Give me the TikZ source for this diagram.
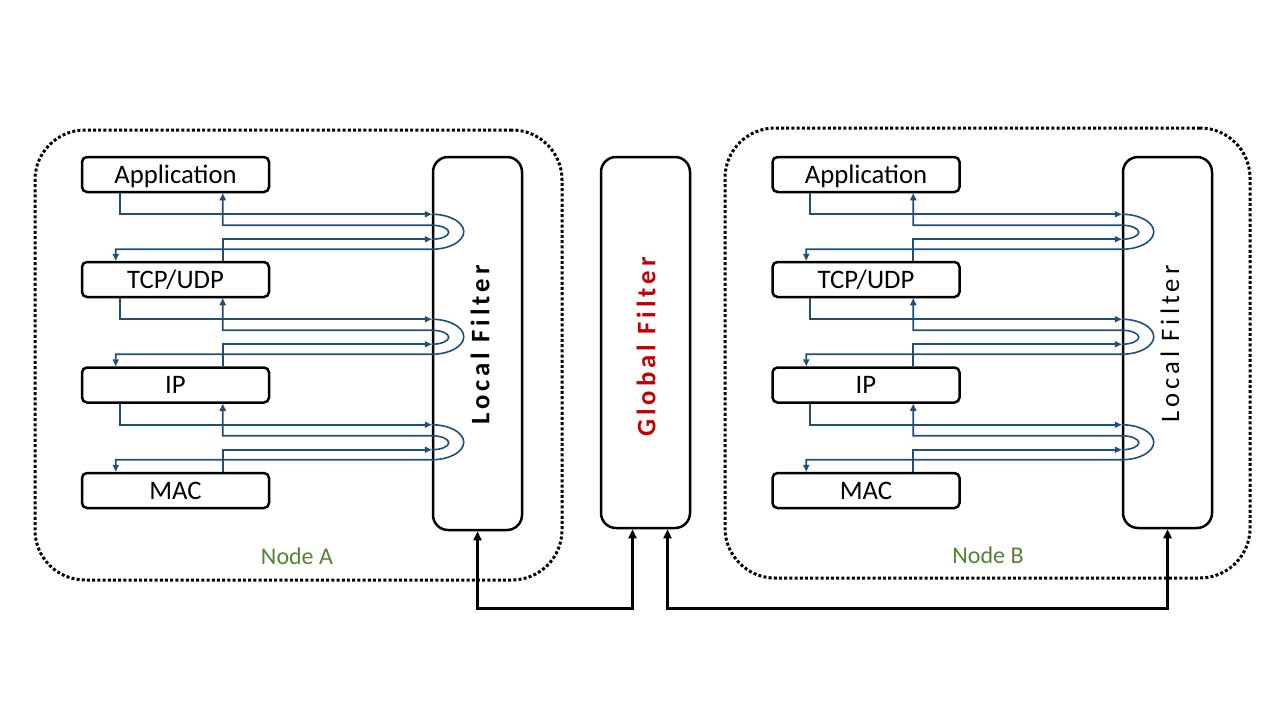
\documentclass[tikz,border=0pt]{standalone}
\usepackage{fontspec}
\setmainfont{Carlito}
\newfontfamily\spacedfont[LetterSpace=15]{Carlito}
\usetikzlibrary{arrows.meta,calc}
\definecolor{flowblue}{HTML}{1F4E79}
\definecolor{gfred}{HTML}{C00000}
\definecolor{nodegreen}{HTML}{548235}
\tikzset{
 layer/.style={draw, line width=2.5pt, rounded corners=5pt, minimum width=187pt, minimum height=35pt, inner sep=0pt, text height=19.5pt, text depth=2.5pt, font=\fontsize{26.7}{32}\selectfont},
 filterbox/.style={draw, line width=2.5pt, rounded corners=15pt, minimum width=89pt, inner sep=0pt},
 filtertext/.style={rotate=90, inner sep=0pt, font=\fontsize{26.7}{32}\selectfont\spacedfont},
 nodearea/.style={draw, line width=3pt, dash pattern=on 3pt off 2.2pt, rounded corners=50pt, inner sep=0pt},
 flow/.style={draw=flowblue, line width=1.6pt},
 flowtip/.style={flow, -{Triangle[length=7pt,width=6pt]}},
 link/.style={draw, line width=2.5pt, {Triangle[length=9pt,width=8pt]}-{Triangle[length=9pt,width=8pt]}},
 nodelabel/.style={text=nodegreen, inner sep=0pt, font=\fontsize{24}{28}\selectfont},
}
\newcommand\layerflow[3]{%
 \draw[flowtip] ($(#1.south west)+(39,0)$) |- ($(#3.west |- #1.south)+(0,21)$);
 \draw[flowtip] ($(#3.west |- #1.south)+(0,21)$) arc[start angle=-90, end angle=90, x radius=32, y radius=17.5] -| ($(#2.north west)+(35,0)$);
 \draw[flowtip] ($(#2.north west)+(142,0)$) |- ($(#3.west |- #1.south)+(0,46)$);
 \draw[flowtip] ($(#3.west |- #1.south)+(0,46)$) arc[start angle=90, end angle=-90, x radius=17, y radius=7] -| ($(#1.south west)+(142,0)$);
}
\begin{document}
\begin{tikzpicture}[x=1pt,y=-1pt]
\useasboundingbox (0,0) rectangle (1280,720);
% node areas
\node[nodearea, minimum width=527pt, minimum height=450pt] (areaA) at (298.5,355) {};
\node[nodearea, minimum width=525pt, minimum height=450pt] (areaB) at (987.5,353) {};
\node[nodelabel] (labA) at (297,556) {Node A};
\node[nodelabel] (labB) at (988,555) {Node B};
% Node A layers
\node[layer] (appA) at (175.5,174.5) {Application};
\node[layer] (tcpA) at (175.5,279.5) {TCP/UDP};
\node[layer] (ipA)  at (175.5,385) {IP};
\node[layer] (macA) at (175.5,490.5) {MAC};
% Node B layers
\node[layer] (appB) at (866,174.5) {Application};
\node[layer] (tcpB) at (866,279.5) {TCP/UDP};
\node[layer] (ipB)  at (866,385) {IP};
\node[layer] (macB) at (866,490.5) {MAC};
% filters
\node[filterbox, minimum height=373pt] (lfA) at (477.5,343.5) {};
\node[filtertext] (lfAt) at (480,345) {\bfseries Local Filter};
\node[filterbox, minimum height=371pt] (gf) at (645.5,342.5) {};
\node[filtertext, text=gfred] (gft) at (646,347) {\bfseries Global Filter};
\node[filterbox, minimum height=371pt] (lfB) at (1167.5,342.5) {};
\node[filtertext] (lfBt) at (1170,344) {Local Filter};
% flows
\layerflow{appA}{tcpA}{lfA}
\layerflow{tcpA}{ipA}{lfA}
\layerflow{ipA}{macA}{lfA}
\layerflow{appB}{tcpB}{lfB}
\layerflow{tcpB}{ipB}{lfB}
\layerflow{ipB}{macB}{lfB}
% links
\coordinate (busL) at ($(gf.south)+(-13,79)$);
\coordinate (busR) at ($(gf.south)+(22,79)$);
\draw[link] (lfA.south) |- (busL) -- ($(gf.south)+(-13,0)$);
\draw[link] ($(gf.south)+(22,0)$) -- (busR) -| (lfB.south);
\end{tikzpicture}
\end{document}
